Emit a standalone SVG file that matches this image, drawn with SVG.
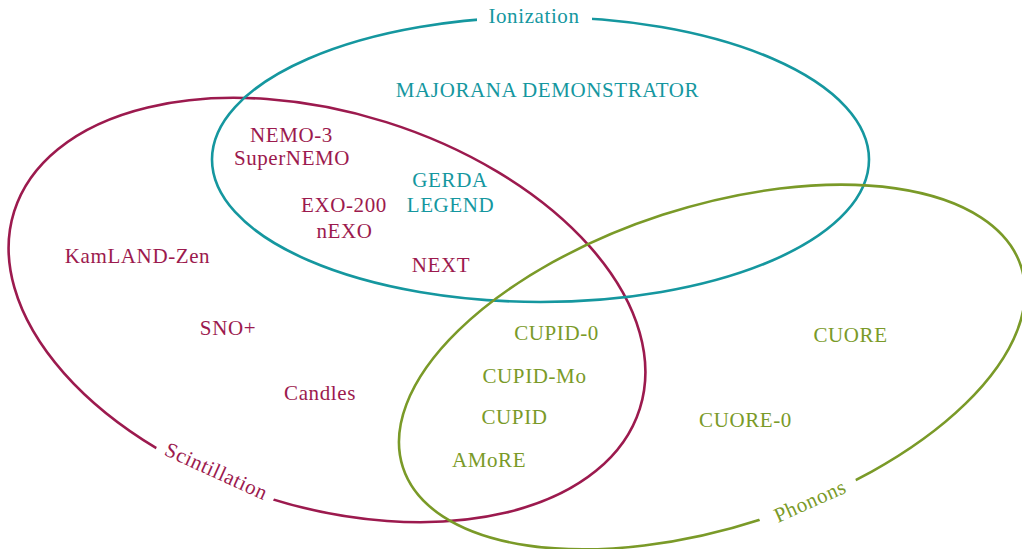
<svg xmlns="http://www.w3.org/2000/svg" width="1022" height="549" viewBox="0 0 1022 549">
<style>
  .set { fill: none; stroke-width: 2.6; }
  .ion { stroke: #15979f; }
  .sci { stroke: #9c1a4e; }
  .pho { stroke: #7a9a28; }
  .gap { fill: #ffffff; stroke: none; }
  text { font-family: "Liberation Serif", "Times New Roman", serif; font-size: 21px; letter-spacing: 0.6px; text-anchor: middle; }
  .tion { fill: #15979f; }
  .tsci { fill: #9c1a4e; }
  .tpho { fill: #7a9a28; }
</style>
<rect width="1022" height="549" fill="#ffffff"/>
<g id="scintillation">
  <ellipse class="set sci" cx="327" cy="310" rx="328" ry="197" transform="rotate(17.5 327 310)"/>
  <rect class="gap" x="-64" y="-15" width="128" height="30" transform="translate(216 471.5) rotate(24.2)"/>
  <text class="tsci" x="0" y="6" transform="translate(216 472) rotate(24.5)">Scintillation</text>
</g>
<g id="ionization">
  <ellipse class="set ion" cx="540.5" cy="159.5" rx="328.5" ry="142.5"/>
  <rect class="gap" x="477" y="4" width="115" height="26"/>
  <text class="tion" x="534" y="23">Ionization</text>
</g>
<g id="phonons">
  <ellipse class="set pho" cx="712" cy="367" rx="325" ry="160" transform="rotate(-18 712 367)"/>
  <rect class="gap" x="-52" y="-15" width="104" height="30" transform="translate(808.5 502) rotate(-22.4)"/>
  <text class="tpho" x="0" y="7" transform="translate(810 501) rotate(-24)">Phonons</text>
</g>
<g id="connectors"/>
<g id="majorana"><text class="tion" x="547.5" y="97">MAJORANA DEMONSTRATOR</text></g>
<g id="nemo"><text class="tsci" x="291.5" y="142">NEMO-3</text><text class="tsci" x="292" y="165">SuperNEMO</text></g>
<g id="gerda"><text class="tion" x="450" y="187">GERDA</text><text class="tion" x="450.5" y="212">LEGEND</text></g>
<g id="exo"><text class="tsci" x="344" y="212">EXO-200</text><text class="tsci" x="344.5" y="238">nEXO</text></g>
<g id="next"><text class="tsci" x="441" y="272">NEXT</text></g>
<g id="kamland"><text class="tsci" x="137.5" y="263">KamLAND-Zen</text></g>
<g id="sno"><text class="tsci" x="228" y="335">SNO+</text></g>
<g id="candles"><text class="tsci" x="320" y="400">Candles</text></g>
<g id="cupid0"><text class="tpho" x="556.5" y="340">CUPID-0</text></g>
<g id="cupidmo"><text class="tpho" x="534.5" y="383">CUPID-Mo</text></g>
<g id="cupid"><text class="tpho" x="514.5" y="424">CUPID</text></g>
<g id="amore"><text class="tpho" x="489" y="467">AMoRE</text></g>
<g id="cuore"><text class="tpho" x="850.5" y="342">CUORE</text></g>
<g id="cuore0"><text class="tpho" x="745.5" y="427">CUORE-0</text></g>
</svg>
